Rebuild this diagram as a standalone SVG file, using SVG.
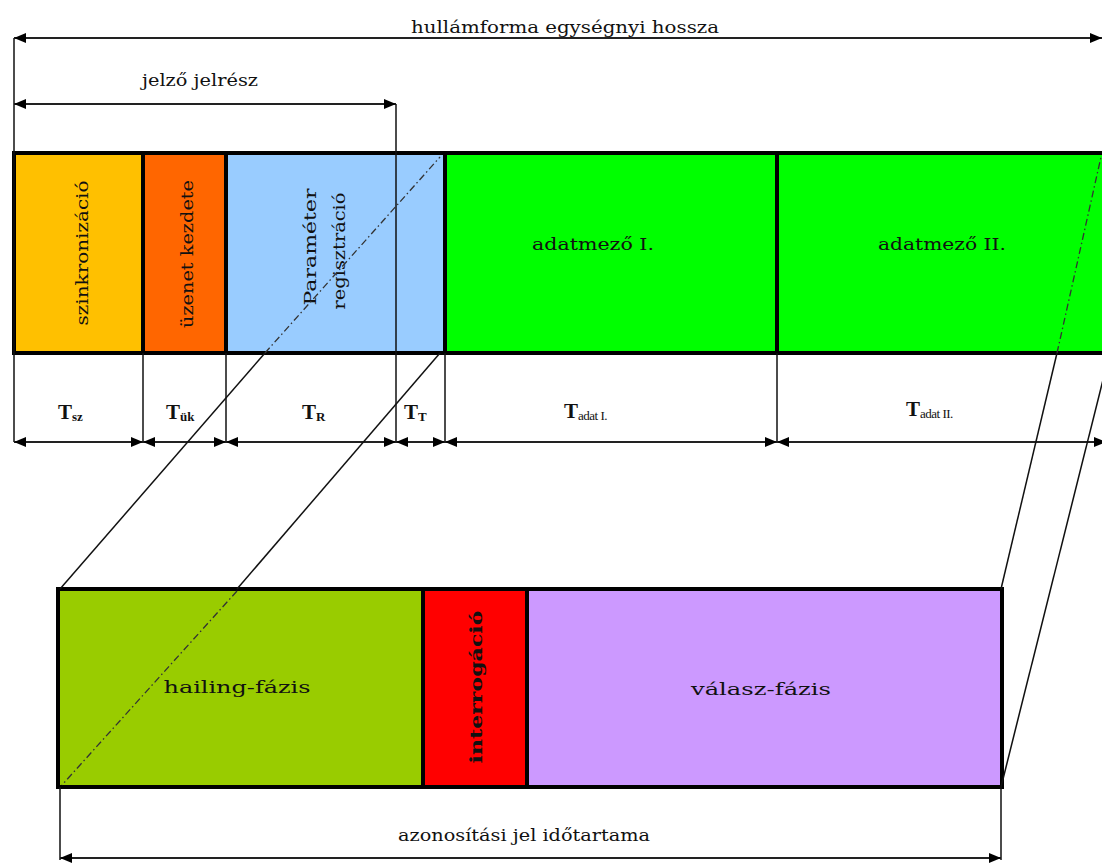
<svg xmlns="http://www.w3.org/2000/svg" width="1102" height="863" viewBox="0 0 1102 863">
<style>
.lbl{font-family:"DejaVu Serif","Liberation Serif",serif;font-size:17px;fill:#111}
.blk{stroke:#000;stroke-width:4}
.thin{stroke:#111;stroke-width:1.5;fill:none}
.dim{stroke:#222;stroke-width:2;fill:none;marker-start:url(#ah);marker-end:url(#ah)}
.dd{stroke:#333;stroke-width:1.3;fill:none;stroke-dasharray:7 3 1.5 3}
.tl{font-family:"Liberation Serif",serif;font-weight:bold;font-size:21px;fill:#111}
.ts{font-size:13px}
</style>
<defs>
<marker id="ah" viewBox="0 0 12 10" refX="12" refY="5" markerWidth="12" markerHeight="10" markerUnits="userSpaceOnUse" orient="auto-start-reverse">
<path d="M0,0 L12,5 L0,10 z" fill="#000"/>
</marker>
</defs>
<rect width="1102" height="863" fill="#fff"/>

<g id="top-blocks">
<g id="szinkronizacio">
<rect class="blk" x="14" y="153" width="129" height="200" fill="#FFC000"/>
<text class="lbl" transform="translate(88,253) rotate(-90)" text-anchor="middle" textLength="145" lengthAdjust="spacingAndGlyphs">szinkronizáció</text>
</g>
<g id="uzenet-kezdete">
<rect class="blk" x="143" y="153" width="83" height="200" fill="#FF6600"/>
<text class="lbl" transform="translate(193,254) rotate(-90)" text-anchor="middle" textLength="148" lengthAdjust="spacingAndGlyphs">üzenet kezdete</text>
</g>
<g id="parameter-regisztracio">
<rect class="blk" x="226" y="153" width="219" height="200" fill="#99CCFF"/>
<text class="lbl" transform="translate(316,247) rotate(-90)" text-anchor="middle" textLength="117" lengthAdjust="spacingAndGlyphs">Paraméter</text>
<text class="lbl" transform="translate(345,251) rotate(-90)" text-anchor="middle" textLength="117" lengthAdjust="spacingAndGlyphs">regisztráció</text>
</g>
<g id="adatmezo-1">
<rect class="blk" x="445" y="153" width="332" height="200" fill="#00FF00"/>
<text class="lbl" x="593" y="250" text-anchor="middle" textLength="122" lengthAdjust="spacingAndGlyphs">adatmező I.</text>
</g>
<g id="adatmezo-2">
<rect class="blk" x="777" y="153" width="340" height="200" fill="#00FF00"/>
<text class="lbl" x="942" y="250" text-anchor="middle" textLength="128" lengthAdjust="spacingAndGlyphs">adatmező II.</text>
</g>
</g>

<g id="bottom-blocks">
<g id="hailing-fazis">
<rect class="blk" x="58" y="589" width="365" height="198" fill="#99CC00"/>
<text class="lbl" x="237" y="693" text-anchor="middle" font-size="19" textLength="147" lengthAdjust="spacingAndGlyphs">hailing-fázis</text>
</g>
<g id="interrogacio">
<rect class="blk" x="423" y="589" width="104" height="198" fill="#FF0000"/>
<text class="lbl" transform="translate(482,687) rotate(-90)" text-anchor="middle" font-weight="bold" font-size="18" textLength="153" lengthAdjust="spacingAndGlyphs">interrogáció</text>
</g>
<g id="valasz-fazis">
<rect class="blk" x="527" y="589" width="475" height="198" fill="#CC99FF"/>
<text class="lbl" x="761" y="695" text-anchor="middle" font-size="19" textLength="140" lengthAdjust="spacingAndGlyphs">válasz-fázis</text>
</g>
</g>

<g id="connectors">
<line class="thin" x1="14" y1="38" x2="14" y2="442"/>
<line class="dim" x1="14" y1="38" x2="1102" y2="38"/>
<line class="dim" x1="14" y1="104" x2="396" y2="104"/>
<line class="thin" x1="396" y1="104" x2="396" y2="442"/>
<line class="thin" x1="143" y1="353" x2="143" y2="442"/>
<line class="thin" x1="226" y1="353" x2="226" y2="442"/>
<line class="thin" x1="445" y1="353" x2="445" y2="442"/>
<line class="thin" x1="777" y1="353" x2="777" y2="442"/>
<line class="dim" x1="14" y1="442" x2="143" y2="442"/>
<line class="dim" x1="143" y1="442" x2="226" y2="442"/>
<line class="dim" x1="226" y1="442" x2="396" y2="442"/>
<line class="dim" x1="396" y1="442" x2="445" y2="442"/>
<line class="dim" x1="445" y1="442" x2="777" y2="442"/>
<line class="dim" x1="777" y1="442" x2="1106" y2="442"/>
<line class="dd" x1="265" y1="353" x2="440" y2="157"/>
<line class="thin" x1="265" y1="353" x2="60" y2="589"/>
<line class="thin" x1="440" y1="353" x2="237" y2="589"/>
<line class="dd" x1="237" y1="591" x2="62" y2="785"/>
<line class="dd" x1="1057" y1="353" x2="1101" y2="157"/>
<line class="thin" x1="1057" y1="353" x2="1001" y2="589"/>
<line class="thin" x1="1001" y1="787" x2="1110" y2="352"/>
<line class="thin" x1="60" y1="787" x2="60" y2="860"/>
<line class="thin" x1="1001" y1="787" x2="1001" y2="860"/>
<line class="dim" x1="60" y1="858" x2="1001" y2="858"/>
</g>

<g id="labels">
<text class="lbl" x="565" y="33" text-anchor="middle" textLength="308" lengthAdjust="spacingAndGlyphs">hullámforma egységnyi hossza</text>
<text class="lbl" x="200" y="86" text-anchor="middle" textLength="116" lengthAdjust="spacingAndGlyphs">jelző jelrész</text>
<text class="tl" x="58" y="419">T<tspan class="ts" dy="2">sz</tspan></text>
<text class="tl" x="166" y="419">T<tspan class="ts" dy="2">ük</tspan></text>
<text class="tl" x="302" y="419">T<tspan class="ts" dy="2">R</tspan></text>
<text class="tl" x="404" y="419">T<tspan class="ts" dy="2">T</tspan></text>
<text class="tl" x="564" y="418">T<tspan class="ts" dy="2" font-weight="normal" letter-spacing="-0.5">adat I.</tspan></text>
<text class="tl" x="906" y="416">T<tspan class="ts" dy="2" font-weight="normal" letter-spacing="-0.5">adat II.</tspan></text>
<text class="lbl" x="524" y="841" text-anchor="middle" textLength="252" lengthAdjust="spacingAndGlyphs">azonosítási jel időtartama</text>
</g>
</svg>
